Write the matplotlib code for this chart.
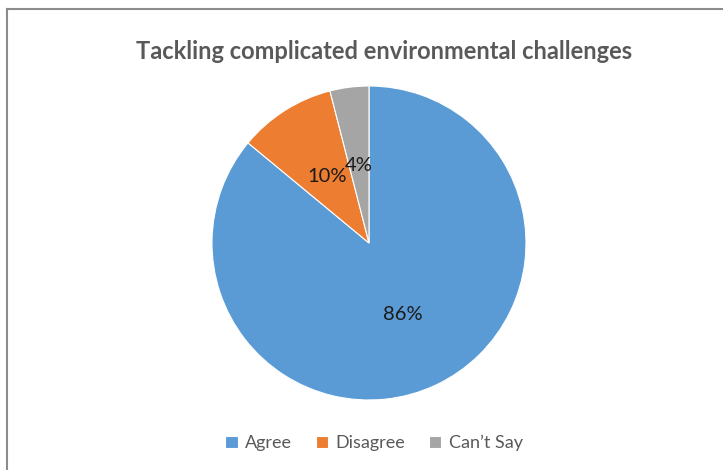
import matplotlib.pyplot as plt
from matplotlib.lines import Line2D

labels = ['Agree', 'Disagree', 'Can\u2019t Say']
values = [86, 10, 4]
colors = ['#5B9BD5', '#ED7D31', '#A5A5A5']

plt.rcParams['font.family'] = ['Lato', 'DejaVu Sans']

fig = plt.figure(figsize=(7.23, 4.70), dpi=100)

# frame lines along top and left edges
fig.add_artist(Line2D([7 / 723, 1], [1 - 9 / 470, 1 - 9 / 470], color='#8c8c8c', lw=1.5))
fig.add_artist(Line2D([7 / 723, 7 / 723], [0, 1 - 9 / 470], color='#8c8c8c', lw=1.5))

# pie centred at (369, 243) px with radius 157 px
cx, cy, r = 369, 243, 157
ax = fig.add_axes([(cx - r) / 723, 1 - (cy + r) / 470, 2 * r / 723, 2 * r / 470])
wedges, texts, autotexts = ax.pie(values, colors=colors, startangle=90, counterclock=False,
                                  autopct='%1.0f%%', pctdistance=0.5, radius=1.0,
                                  wedgeprops=dict(edgecolor='white', linewidth=0.8),
                                  textprops=dict(fontsize=14.5, color='#1a1a1a'))
ax.set_xlim(-1, 1)
ax.set_ylim(-1, 1)
ax.set_aspect('equal')

fig.text(384 / 723, 1 - 52 / 470, 'Tackling complicated environmental challenges',
         ha='center', va='center', fontsize=17, fontweight='bold', color='#595959')

leg = fig.legend(wedges, labels, loc='center', bbox_to_anchor=(374 / 723, 1 - 443 / 470),
                 ncol=3, frameon=False, fontsize=13, handlelength=0.7, handleheight=0.7,
                 handletextpad=0.4, columnspacing=1.3)
for t in leg.get_texts():
    t.set_color('#595959')

fig.savefig('out.png', dpi=100)
